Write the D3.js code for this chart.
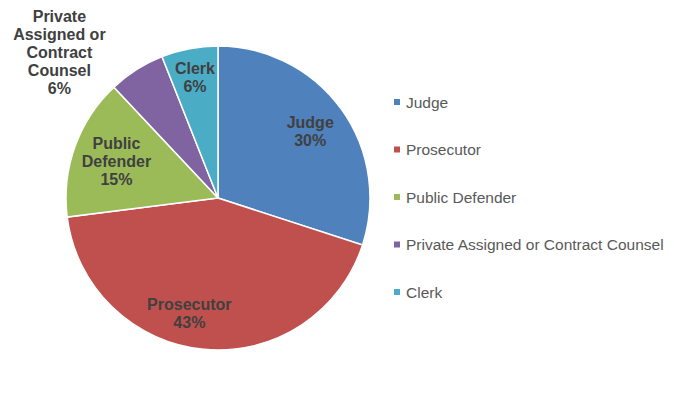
<!DOCTYPE html>
<html>
<head>
<meta charset="utf-8">
<script src="https://cdn.jsdelivr.net/npm/d3@7"></script>
<style>
  body { margin: 0; background: #fff; }
  svg text { font-family: "Liberation Sans", Arial, sans-serif; }
</style>
</head>
<body>
<script>
// data
var categories = ["Judge", "Prosecutor", "Public Defender", "Private Assigned or Contract Counsel", "Clerk"];
var values = [30, 43, 15, 6, 6];
var labelLines = [["Judge"], ["Prosecutor"], ["Public", "Defender"], ["Private", "Assigned or", "Contract", "Counsel"], ["Clerk"]];
var colors = ["#4F81BD", "#C0504D", "#9BBB59", "#8064A2", "#4BACC6"];

var w = 674, h = 395;
var cx = 218, cy = 198, r = 152;

var svg = d3.select("body").append("svg")
    .attr("width", w)
    .attr("height", h);

var pie = d3.pie().sort(null).value(function(d){ return d; });
var arcs = pie(values);

var arc = d3.arc().innerRadius(0).outerRadius(r);

var g = svg.append("g")
    .attr("transform", "translate(" + cx + "," + cy + ")");

// slices
g.selectAll("path")
    .data(arcs)
    .enter()
    .append("path")
    .attr("d", arc)
    .attr("fill", function(d, i){ return colors[i]; })
    .attr("stroke", "#fff")
    .attr("stroke-width", 1.5);

// label radius (fraction of r) and angle tweak, to mimic best-fit placement
var labelRad = [0.75, 0.78, 0.71, 1.42, 0.81];
var labelShift = [0, 0.15, 0, -0.26, 0];

arcs.forEach(function(d, i){
    var a = (d.startAngle + d.endAngle) / 2 + labelShift[i];
    var rr = r * labelRad[i];
    var x = Math.sin(a) * rr;
    var y = -Math.cos(a) * rr;
    var lines = labelLines[i].concat([values[i] + "%"]);
    var lh = 18;
    var t = g.append("text")
        .attr("text-anchor", "middle")
        .attr("font-size", 16)
        .attr("font-weight", "bold")
        .attr("fill", "#404040");
    lines.forEach(function(s, k){
        t.append("tspan")
            .attr("x", x)
            .attr("y", y + (k - (lines.length - 1) / 2) * lh + 6)
            .text(s);
    });
});

// legend
var legend = svg.append("g")
    .attr("transform", "translate(394,0)");

var ly = d3.scalePoint()
    .domain(categories)
    .range([102, 292]);

categories.forEach(function(c, i){
    legend.append("rect")
        .attr("x", 0)
        .attr("y", ly(c) - 3)
        .attr("width", 6)
        .attr("height", 6)
        .attr("fill", colors[i]);
    legend.append("text")
        .attr("x", 12)
        .attr("y", ly(c) + 5.5)
        .attr("font-size", 15.5)
        .attr("fill", "#595959")
        .text(c);
});
</script>
</body>
</html>
